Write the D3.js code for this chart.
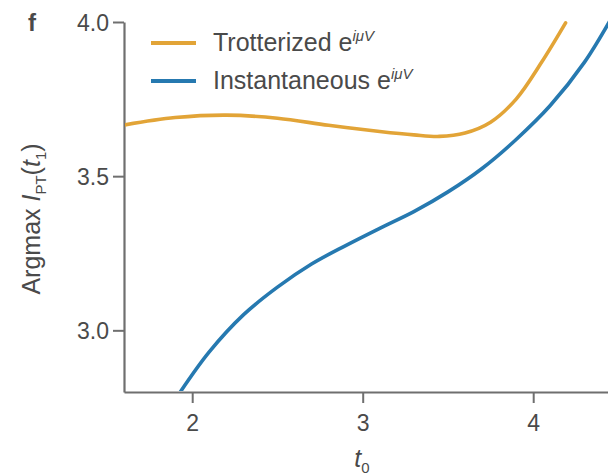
<!DOCTYPE html>
<html>
<head>
<meta charset="utf-8">
<script src="https://cdn.jsdelivr.net/npm/d3@7"></script>
<style>
  body { margin: 0; background: #fff; }
  text { font-family: 'Liberation Sans', Arial, sans-serif; fill: #4a4a4a; }
</style>
</head>
<body>
<div id="chart"></div>
<script>
// Our data
const xTicks = [2, 3, 4]
const yTicks = [3.0, 3.5, 4.0]

const tTrotter = [1.60, 1.90, 2.20, 2.50, 2.80, 3.10, 3.30, 3.45, 3.60, 3.75, 3.90, 4.05, 4.19]
const vTrotter = [3.666, 3.690, 3.698, 3.688, 3.665, 3.645, 3.634, 3.629, 3.640, 3.675, 3.750, 3.870, 3.997]

const tInstant = [1.93, 2.10, 2.30, 2.50, 2.70, 2.90, 3.10, 3.30, 3.50, 3.70, 3.90, 4.10, 4.30, 4.45]
const vInstant = [2.80, 2.93, 3.05, 3.14, 3.215, 3.275, 3.331, 3.385, 3.449, 3.525, 3.619, 3.729, 3.869, 4.004]

const seriesNames = ['Trotterized', 'Instantaneous']
const seriesColors = ['#e2a437', '#2679b0']

// Our canvas
const width = 608,
  height = 476,
  marginLeft = 124,
  plotTop = 22,
  plotBottom = 392

let svg = d3.select('#chart')
  .append('svg')
  .attr('width', width)
  .attr('height', height)

const xScale = d3.scaleLinear()
  .domain([1.6, 4.5])
  .range([marginLeft, marginLeft + 2.9 * 170.5])

const yScale = d3.scaleLinear()
  .domain([2.8, 4.0])
  .range([plotBottom, plotTop])

// axes
const xAxis = d3.axisBottom(xScale)
  .tickValues(xTicks)
  .tickFormat(d3.format('d'))
  .tickSize(11)
  .tickSizeOuter(0)
  .tickPadding(12)

const yAxis = d3.axisLeft(yScale)
  .tickValues(yTicks)
  .tickFormat(d3.format('.1f'))
  .tickSize(11)
  .tickSizeOuter(0)
  .tickPadding(4)

let gx = svg.append('g')
  .attr('transform', `translate(0, ${plotBottom})`)
  .call(xAxis)

let gy = svg.append('g')
  .attr('transform', `translate(${marginLeft}, 0)`)
  .call(yAxis)

;[gx, gy].forEach(g => {
  g.select('.domain').attr('stroke', '#6f6f6f').attr('stroke-width', 2.2)
  g.selectAll('.tick line').attr('stroke', '#6f6f6f').attr('stroke-width', 2)
  g.selectAll('.tick text')
    .style('font-family', "'Liberation Sans', Arial, sans-serif")
    .style('font-size', '23px')
    .attr('fill', '#4a4a4a')
})
gy.selectAll('.tick text').attr('dy', '0.36em')

// clip the curves to the plot
svg.append('clipPath')
  .attr('id', 'plot')
  .append('rect')
  .attr('x', marginLeft + 1)
  .attr('y', 0)
  .attr('width', width - marginLeft)
  .attr('height', plotBottom - 1)

const line = d3.line()
  .x(d => xScale(d[0]))
  .y(d => yScale(d[1]))
  .curve(d3.curveCatmullRom.alpha(0.5))

let series = [
  d3.zip(tTrotter, vTrotter),
  d3.zip(tInstant, vInstant)
]

svg.append('g')
  .attr('clip-path', 'url(#plot)')
  .selectAll('path')
  .data(series)
  .enter()
  .append('path')
  .attr('d', line)
  .attr('fill', 'none')
  .attr('stroke', (d, i) => seriesColors[i])
  .attr('stroke-width', 3.6)
  .attr('stroke-linecap', 'round')

// legend
let legend = svg.append('g')
seriesNames.forEach((name, i) => {
  let y = 43 + i * 38
  legend.append('line')
    .attr('x1', 151).attr('x2', 196)
    .attr('y1', y).attr('y2', y)
    .attr('stroke', seriesColors[i])
    .attr('stroke-width', 4)
  let t = legend.append('text')
    .attr('x', 213)
    .attr('y', y + 8)
    .style('font-size', '25px')
  t.append('tspan').text(name + ' e')
  t.append('tspan')
    .attr('dy', -10)
    .style('font-size', '15px')
    .style('font-style', 'italic')
    .text('iμV')
})

// axis titles
let ylab = svg.append('text')
  .attr('transform', 'translate(40, 219) rotate(-90)')
  .attr('text-anchor', 'middle')
  .style('font-size', '25px')
ylab.append('tspan').text('Argmax ')
ylab.append('tspan').style('font-style', 'italic').text('I')
ylab.append('tspan').attr('dy', 6).style('font-size', '15px').text('PT')
ylab.append('tspan').attr('dy', -6).text('(')
ylab.append('tspan').style('font-style', 'italic').text('t')
ylab.append('tspan').attr('dy', 6).style('font-size', '15px').text('1')
ylab.append('tspan').attr('dy', -6).text(')')

let xlab = svg.append('text')
  .attr('x', 362)
  .attr('y', 467)
  .attr('text-anchor', 'middle')
  .style('font-size', '25px')
xlab.append('tspan').style('font-style', 'italic').text('t')
xlab.append('tspan').attr('dy', 6).style('font-size', '15px').text('0')

// panel letter
svg.append('text')
  .attr('x', 28)
  .attr('y', 31)
  .style('font-size', '24px')
  .style('font-weight', 'bold')
  .attr('fill', '#111')
  .text('f')
</script>
</body>
</html>
